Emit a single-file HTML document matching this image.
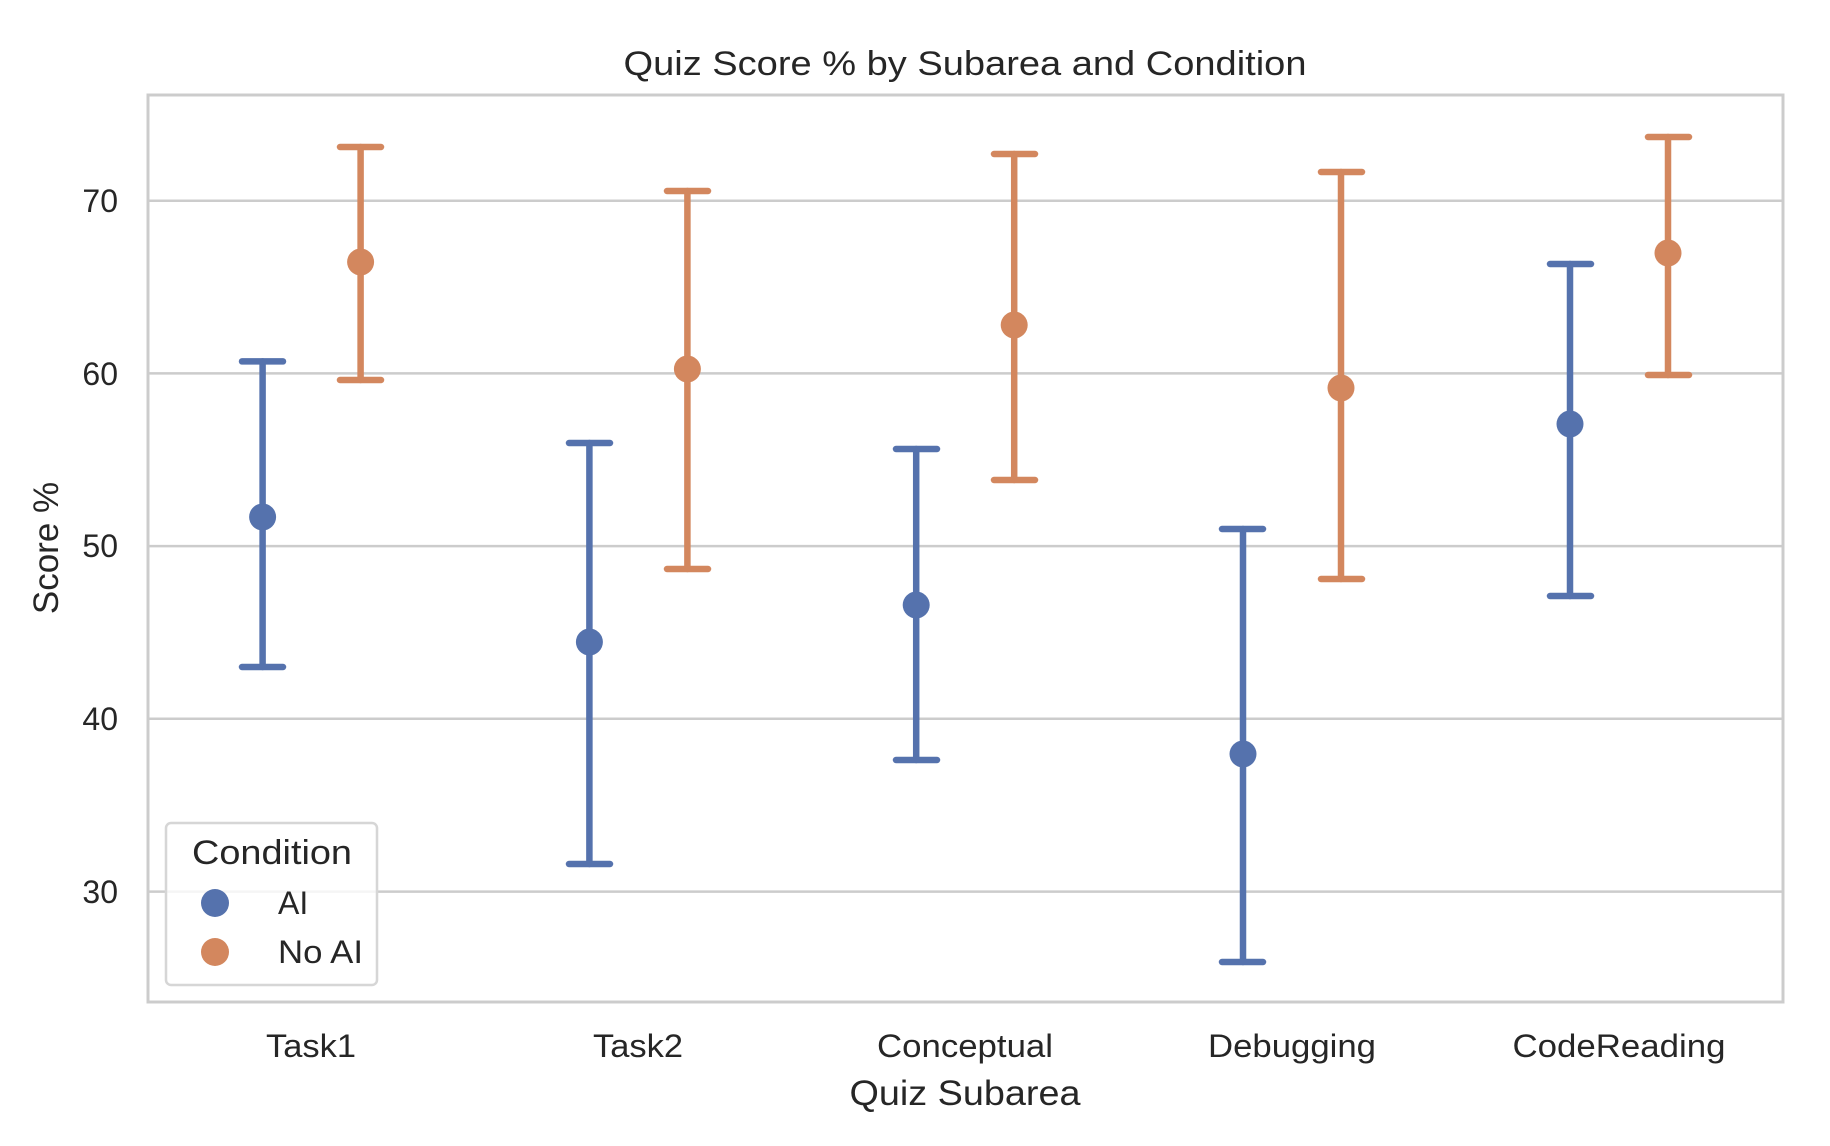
<!DOCTYPE html>
<html><head><meta charset="utf-8"><style>
html,body{margin:0;padding:0;background:#fff;}
svg{display:block;}
text{font-family:"Liberation Sans",Arial,sans-serif;fill:#262626;}
</style></head><body>
<svg width="1830" height="1146" viewBox="0 0 1830 1146" xmlns="http://www.w3.org/2000/svg">
<rect width="1830" height="1146" fill="#fff"/>
<g stroke="#cccccc" stroke-width="2.5">
<line x1="148" y1="200.7" x2="1783" y2="200.7"/>
<line x1="148" y1="373.4" x2="1783" y2="373.4"/>
<line x1="148" y1="546.1" x2="1783" y2="546.1"/>
<line x1="148" y1="718.8" x2="1783" y2="718.8"/>
<line x1="148" y1="891.6" x2="1783" y2="891.6"/>
</g>
<rect x="148" y="95" width="1635" height="907" fill="none" stroke="#cccccc" stroke-width="3"/>
<g font-size="32" text-anchor="end">
<text x="118" y="212">70</text>
<text x="118" y="385">60</text>
<text x="118" y="557">50</text>
<text x="118" y="730">40</text>
<text x="118" y="903">30</text>
</g>
<text x="965" y="75" font-size="34" text-anchor="middle" textLength="683" lengthAdjust="spacingAndGlyphs">Quiz Score % by Subarea and Condition</text>
<g font-size="32" text-anchor="middle">
<text x="311" y="1057" textLength="90" lengthAdjust="spacingAndGlyphs">Task1</text>
<text x="638" y="1057" textLength="90" lengthAdjust="spacingAndGlyphs">Task2</text>
<text x="965" y="1057" textLength="176" lengthAdjust="spacingAndGlyphs">Conceptual</text>
<text x="1292" y="1057" textLength="168" lengthAdjust="spacingAndGlyphs">Debugging</text>
<text x="1619" y="1057" textLength="213" lengthAdjust="spacingAndGlyphs">CodeReading</text>
</g>
<text x="965" y="1105" font-size="35" text-anchor="middle" textLength="231" lengthAdjust="spacingAndGlyphs">Quiz Subarea</text>
<text transform="translate(58,548) rotate(-90)" font-size="35" text-anchor="middle">Score %</text>
<g stroke-width="6.5" stroke-linecap="round">
<g stroke="#5572ad" fill="#5572ad">
<line x1="262.6" y1="667" x2="262.6" y2="361.4"/><line x1="242" y1="361.4" x2="283" y2="361.4"/><line x1="242" y1="667" x2="283" y2="667"/><circle cx="262.6" cy="517" r="13.5" stroke="none"/>
<line x1="589.4" y1="864" x2="589.4" y2="443"/><line x1="569" y1="443" x2="610" y2="443"/><line x1="569" y1="864" x2="610" y2="864"/><circle cx="589.4" cy="642" r="13.5" stroke="none"/>
<line x1="916.2" y1="760" x2="916.2" y2="449"/><line x1="896" y1="449" x2="937" y2="449"/><line x1="896" y1="760" x2="937" y2="760"/><circle cx="916.2" cy="605" r="13.5" stroke="none"/>
<line x1="1243" y1="962" x2="1243" y2="529"/><line x1="1222" y1="529" x2="1263" y2="529"/><line x1="1222" y1="962" x2="1263" y2="962"/><circle cx="1243" cy="754" r="13.5" stroke="none"/>
<line x1="1570" y1="596" x2="1570" y2="264"/><line x1="1550" y1="264" x2="1591" y2="264"/><line x1="1550" y1="596" x2="1591" y2="596"/><circle cx="1570" cy="424" r="13.5" stroke="none"/>
</g>
<g stroke="#d3875e" fill="#d3875e">
<line x1="360.6" y1="380" x2="360.6" y2="147"/><line x1="340" y1="147" x2="381" y2="147"/><line x1="340" y1="380" x2="381" y2="380"/><circle cx="360.6" cy="262" r="13.5" stroke="none"/>
<line x1="687.4" y1="569" x2="687.4" y2="191"/><line x1="667" y1="191" x2="708" y2="191"/><line x1="667" y1="569" x2="708" y2="569"/><circle cx="687.4" cy="369" r="13.5" stroke="none"/>
<line x1="1014.2" y1="480" x2="1014.2" y2="154"/><line x1="994" y1="154" x2="1035" y2="154"/><line x1="994" y1="480" x2="1035" y2="480"/><circle cx="1014.2" cy="325" r="13.5" stroke="none"/>
<line x1="1341" y1="579" x2="1341" y2="172"/><line x1="1321" y1="172" x2="1362" y2="172"/><line x1="1321" y1="579" x2="1362" y2="579"/><circle cx="1341" cy="388" r="13.5" stroke="none"/>
<line x1="1668" y1="375" x2="1668" y2="137"/><line x1="1648" y1="137" x2="1689" y2="137"/><line x1="1648" y1="375" x2="1689" y2="375"/><circle cx="1668" cy="253" r="13.5" stroke="none"/>
</g>
</g>
<rect x="166" y="823" width="211" height="162" rx="5" fill="#fff" fill-opacity="0.8" stroke="#d6d6d6" stroke-width="2.5"/>
<text x="272" y="864" font-size="34" text-anchor="middle" textLength="160" lengthAdjust="spacingAndGlyphs">Condition</text>
<circle cx="215" cy="903" r="14" fill="#5572ad"/>
<circle cx="215" cy="952" r="14" fill="#d3875e"/>
<text x="278" y="914" font-size="32">AI</text>
<text x="278" y="963" font-size="32" textLength="85" lengthAdjust="spacingAndGlyphs">No AI</text>
</svg>
</body></html>
